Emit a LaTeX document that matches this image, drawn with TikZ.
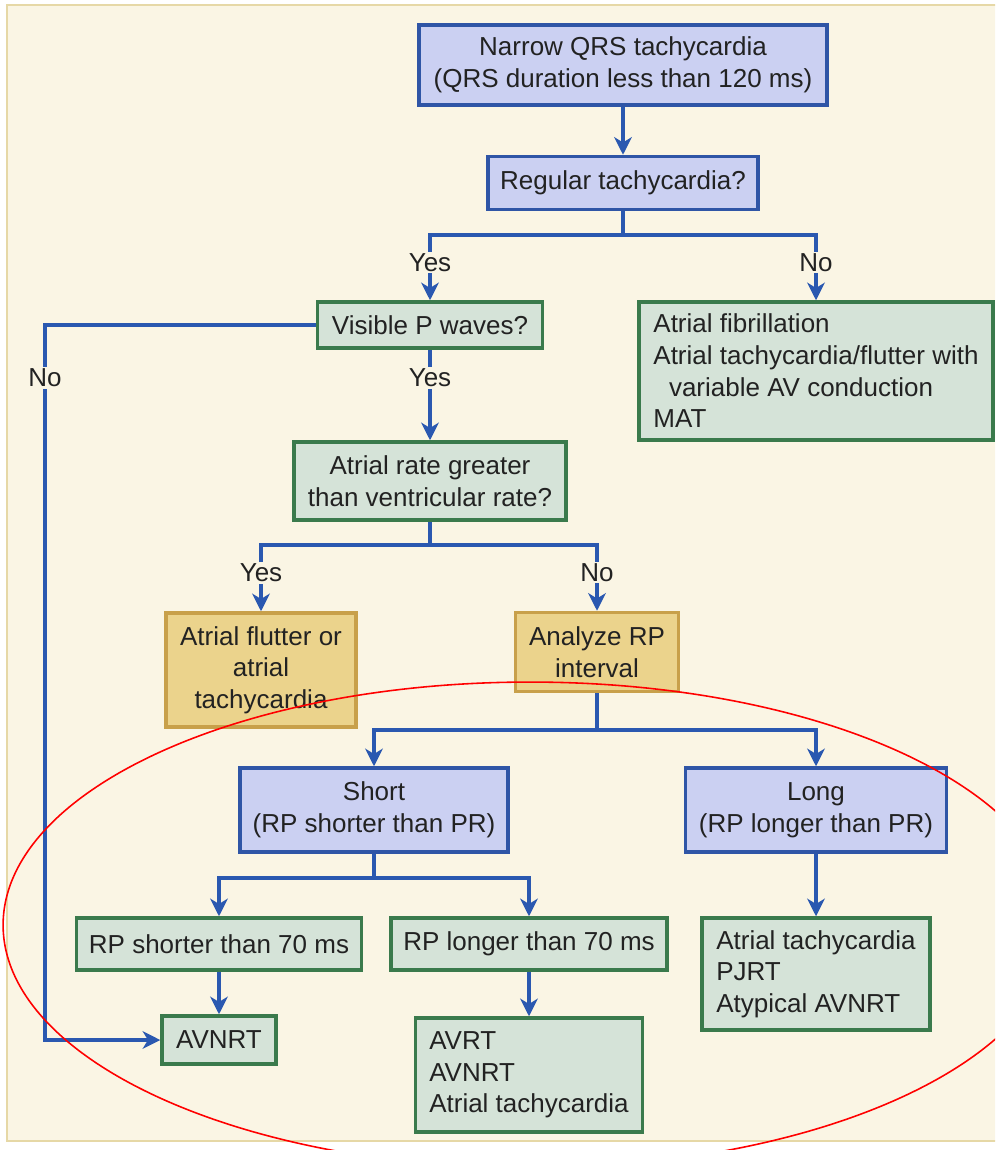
\documentclass[tikz,border=0pt]{standalone}
\usepackage{fontspec}
\setmainfont{Liberation Sans}
\usetikzlibrary{arrows.meta,positioning,calc}
\definecolor{qcream}{HTML}{FAF5E4}
\definecolor{qframe}{HTML}{E6D8A6}
\definecolor{qtext}{HTML}{222222}
\definecolor{qblue}{HTML}{2F55A6}
\definecolor{qbluefill}{HTML}{CBD0F2}
\definecolor{qgreen}{HTML}{3A7A4C}
\definecolor{qgreenfill}{HTML}{D5E3D8}
\definecolor{qyellow}{HTML}{C8A04A}
\definecolor{qyellowfill}{HTML}{EBD38C}
\definecolor{qarrow}{HTML}{2A58B0}
\newcommand{\qfont}{\fontsize{14.8}{18}\selectfont}
\tikzset{
  bluebox/.style={draw=qblue, fill=qbluefill, line width=2pt, align=center, text=qtext, font=\qfont, inner sep=2pt},
  greenbox/.style={draw=qgreen, fill=qgreenfill, line width=2pt, align=center, text=qtext, font=\qfont, inner sep=2pt},
  yellowbox/.style={draw=qyellow, fill=qyellowfill, line width=2pt, align=center, text=qtext, font=\qfont, inner sep=2pt},
  link/.style={line width=2pt, qarrow},
  arr/.style={-{Stealth[length=10pt,width=10pt,inset=3pt]}, line width=2pt, qarrow},
  lbl/.style={fill=qcream, font=\qfont, text=qtext, inner sep=1pt}
}

\begin{document}
\begin{tikzpicture}[x=0.02cm, y=-0.02cm]
  \useasboundingbox (0,0) rectangle (995,1150);
  \clip (0,0) rectangle (995,1150);
  \fill[white] (0,0) rectangle (995,1150);
  \draw[qframe, fill=qcream, line width=1.5pt] (7,5) rectangle (1010,1141);

  % Top of the tree
  \node[bluebox, minimum width=8.16cm, minimum height=1.6cm] (qrs) at (623,65) {Narrow QRS tachycardia\\(QRS duration less than 120 ms)};
  \node[bluebox, minimum width=5.4cm, minimum height=1.06cm] (regular) at (623,183) {Regular tachycardia?};

  % Regular / irregular
  \node[greenbox, minimum width=4.5cm, minimum height=0.92cm] (pwaves) at (430,325) {Visible P waves?};
  \node[greenbox, align=left, minimum width=7.08cm, minimum height=2.76cm] (irregular) at (816,371) {Atrial fibrillation\\Atrial tachycardia/flutter with\\\hspace{0.6em}variable AV conduction\\MAT};

  % Atrial vs ventricular rate
  \node[greenbox, minimum width=5.44cm, minimum height=1.56cm] (rate) at (430,481) {Atrial rate greater\\than ventricular rate?};
  \node[yellowbox, minimum width=3.8cm, minimum height=2.28cm] (flutter) at (261,670) {Atrial flutter or\\atrial\\tachycardia};
  \node[yellowbox, minimum width=3.26cm, minimum height=1.58cm] (analyze) at (597,652) {Analyze RP\\interval};

  % RP interval
  \node[bluebox, minimum width=5.36cm, minimum height=1.68cm] (short) at (374,810) {Short\\(RP shorter than PR)};
  \node[bluebox, minimum width=5.22cm, minimum height=1.68cm] (long) at (816,810) {Long\\(RP longer than PR)};
  \node[greenbox, minimum width=5.7cm, minimum height=1.04cm] (short70) at (219,944) {RP shorter than 70 ms};
  \node[greenbox, minimum width=5.52cm, minimum height=1.04cm] (long70) at (529,944) {RP longer than 70 ms};
  \node[greenbox, align=left, minimum width=4.56cm, minimum height=2.24cm] (longdx) at (816,974) {Atrial tachycardia\\PJRT\\Atypical AVNRT};

  % Diagnoses
  \node[greenbox, minimum width=2.28cm, minimum height=0.96cm] (avnrt) at (219,1040) {AVNRT};
  \node[greenbox, align=left, minimum width=4.54cm, minimum height=2.28cm] (shortdx) at (529,1075) {AVRT\\AVNRT\\Atrial tachycardia};

  % Arrows
  \coordinate (split1) at (623,235);
  \coordinate (split2) at (430,545);
  \coordinate (split3) at (597,730);
  \coordinate (split4) at (374,878);
  \coordinate (nobend) at (45,1040);

  \draw[arr] (qrs.south) -- (regular.north);
  \draw[link] (regular.south) -- (split1);
  \draw[arr] (split1) -| node[lbl, pos=0.71] {Yes} (pwaves.north);
  \draw[arr] (split1) -| node[lbl, pos=0.71] {No} (irregular.north);

  \draw[arr] (pwaves.west) -| node[lbl, pos=0.537] {No} (nobend) -- (avnrt.west);
  \draw[arr] (pwaves.south) -- node[lbl, pos=0.31] {Yes} (rate.north);

  \draw[link] (rate.south) -- (split2);
  \draw[arr] (split2) -| node[lbl, pos=0.71] {Yes} (flutter.north);
  \draw[arr] (split2) -| node[lbl, pos=0.71] {No} (analyze.north);

  \draw[link] (analyze.south) -- (split3);
  \draw[arr] (split3) -| (short.north);
  \draw[arr] (split3) -| (long.north);

  \draw[link] (short.south) -- (split4);
  \draw[arr] (split4) -| (short70.north);
  \draw[arr] (split4) -| (long70.north);

  \draw[arr] (long.south) -- (longdx.north);
  \draw[arr] (short70.south) -- (avnrt.north);
  \draw[arr] (long70.south) -- (shortdx.north);

  % Highlight
  \draw[red, line width=0.9pt] (530,925) ellipse [x radius=10.54cm, y radius=4.86cm];
\end{tikzpicture}
\end{document}
